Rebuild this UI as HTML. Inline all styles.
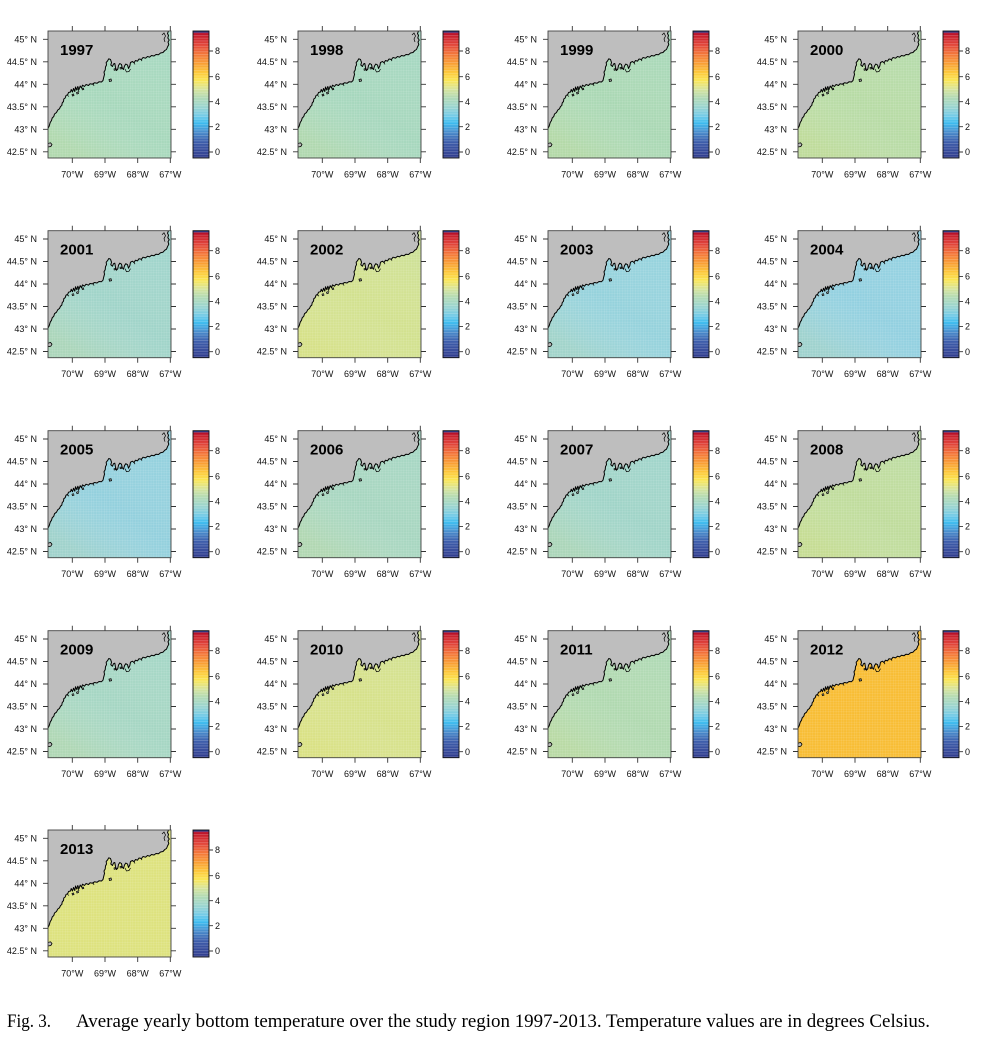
<!DOCTYPE html>
<html><head><meta charset="utf-8">
<style>
html,body{margin:0;padding:0;background:#fff;}
svg{display:block;}
.yl,.xl,.cl{font-family:"Liberation Sans",sans-serif;font-size:9px;fill:#111;}
.yl{text-anchor:end;}
.xl{text-anchor:middle;}
.yr{font-family:"Liberation Sans",sans-serif;font-size:15px;font-weight:bold;fill:#000;}
.cap{font-family:"Liberation Serif",serif;font-size:19px;fill:#000;}
</style></head>
<body>
<svg width="990" height="1063" viewBox="0 0 990 1063" xmlns="http://www.w3.org/2000/svg" xmlns:xlink="http://www.w3.org/1999/xlink">
<defs>
<linearGradient id="cb" x1="0" y1="31" x2="0" y2="158" gradientUnits="userSpaceOnUse">
<stop offset="0" stop-color="#a50026"/>
<stop offset="0.04" stop-color="#c8202d"/>
<stop offset="0.109" stop-color="#e2463a"/>
<stop offset="0.179" stop-color="#f3753a"/>
<stop offset="0.258" stop-color="#f9a035"/>
<stop offset="0.327" stop-color="#fdc83a"/>
<stop offset="0.387" stop-color="#fbe553"/>
<stop offset="0.456" stop-color="#d8e49b"/>
<stop offset="0.526" stop-color="#b1dab5"/>
<stop offset="0.595" stop-color="#9cd5cf"/>
<stop offset="0.665" stop-color="#76cbe6"/>
<stop offset="0.724" stop-color="#3dbcef"/>
<stop offset="0.794" stop-color="#4a8fce"/>
<stop offset="0.873" stop-color="#3e5eab"/>
<stop offset="1" stop-color="#303a8c"/>
</linearGradient>
<pattern id="stripes" x="0" y="0" width="20" height="2.7" patternUnits="userSpaceOnUse">
<rect x="0" y="0" width="20" height="0.8" fill="#fff" fill-opacity="0.22"/>
</pattern>
<pattern id="grid" x="0" y="0" width="2.6" height="2.6" patternUnits="userSpaceOnUse">
<rect x="0" y="0" width="2.6" height="0.5" fill="#fff" fill-opacity="0.16"/>
<rect x="0" y="0" width="0.5" height="2.6" fill="#fff" fill-opacity="0.16"/>
</pattern>
<linearGradient id="shade" x1="1" y1="0" x2="0.3" y2="1">
<stop offset="0" stop-color="#7fcfe0" stop-opacity="0.12"/>
<stop offset="0.6" stop-color="#ffffff" stop-opacity="0"/>
<stop offset="1" stop-color="#f0e060" stop-opacity="0.14"/>
</linearGradient>

<g id="land" transform="translate(48,31)">
<path fill="#bebebe" stroke="none" d="M0,0 L0,97.5 L1.2,95 L2.2,91.5 L3.5,89.5 L4.2,87 L5.8,85.5 L6.5,83 L8.5,81.5 L9.8,79 L11.5,77.8 L12.5,75.5 L13.8,74.5 L14.2,72 L15.5,70.5 L15.8,68 L17.2,67 L18,64.5 L19.8,63.5 L20.5,61.5 L22.5,61 L23.2,58.5 L24.5,61 L25.5,57.5 L26.8,60.5 L27.5,56 L28.8,59 L29.8,55.5 L31,58.5 L32.2,55 L33.5,57 L34.5,54.2 L36.5,55.5 L38,53.5 L40.5,54.5 L42,52.8 L44.5,53.2 L46.5,51.8 L49,52.3 L51,50.8 L53.5,51 L55,49.5 L55.8,46 L56.5,43.5 L56,41 L57.2,39 L57.5,36 L58.5,34 L58.2,31.5 L59.5,30 L60.8,27.8 L62.5,28.5 L63.5,31.5 L62.8,34 L64.5,35.5 L65.5,33 L66.8,32.5 L67.5,36.5 L68.5,39.5 L69.8,38 L70.5,34.5 L71.8,32.5 L73.5,33.5 L74.2,37 L75.5,38.5 L76.5,35 L77.8,33 L79.5,34 L80.5,37.5 L81.8,35 L82.5,31.5 L84.5,30.5 L86,31.8 L87.5,29.5 L89.5,30.2 L91,28 L93.5,28.5 L95,26.5 L97.5,27.2 L99.5,25.5 L101.5,26.2 L103.5,24.5 L106,25 L108,23.5 L110.5,23.8 L112.5,22 L115,21.5 L116.8,19.5 L118.5,18.5 L119.5,16 L120.8,13.5 L120,11 L121.2,9 L119.8,7 L120.5,4.5 L119.5,2.5 L120.5,0 Z"/>
<path fill="none" stroke="#000" stroke-width="1" stroke-linejoin="round" d="M0,97.5 L1.2,95 L2.2,91.5 L3.5,89.5 L4.2,87 L5.8,85.5 L6.5,83 L8.5,81.5 L9.8,79 L11.5,77.8 L12.5,75.5 L13.8,74.5 L14.2,72 L15.5,70.5 L15.8,68 L17.2,67 L18,64.5 L19.8,63.5 L20.5,61.5 L22.5,61 L23.2,58.5 L24.5,61 L25.5,57.5 L26.8,60.5 L27.5,56 L28.8,59 L29.8,55.5 L31,58.5 L32.2,55 L33.5,57 L34.5,54.2 L36.5,55.5 L38,53.5 L40.5,54.5 L42,52.8 L44.5,53.2 L46.5,51.8 L49,52.3 L51,50.8 L53.5,51 L55,49.5 L55.8,46 L56.5,43.5 L56,41 L57.2,39 L57.5,36 L58.5,34 L58.2,31.5 L59.5,30 L60.8,27.8 L62.5,28.5 L63.5,31.5 L62.8,34 L64.5,35.5 L65.5,33 L66.8,32.5 L67.5,36.5 L68.5,39.5 L69.8,38 L70.5,34.5 L71.8,32.5 L73.5,33.5 L74.2,37 L75.5,38.5 L76.5,35 L77.8,33 L79.5,34 L80.5,37.5 L81.8,35 L82.5,31.5 L84.5,30.5 L86,31.8 L87.5,29.5 L89.5,30.2 L91,28 L93.5,28.5 L95,26.5 L97.5,27.2 L99.5,25.5 L101.5,26.2 L103.5,24.5 L106,25 L108,23.5 L110.5,23.8 L112.5,22 L115,21.5 L116.8,19.5 L118.5,18.5 L119.5,16 L120.8,13.5 L120,11 L121.2,9 L119.8,7 L120.5,4.5 L119.5,2.5 L120.5,0"/>
<path fill="#bebebe" stroke="#000" stroke-width="0.8" d="M0,112.5 L2.5,111.8 L4,113.5 L2.8,115.5 L0,116"/>
<path fill="#bebebe" stroke="#000" stroke-width="0.8" d="M61,48.5 L63,48 L63.5,50 L61.5,50.5 Z"/>
<path fill="#bebebe" stroke="#000" stroke-width="0.7" d="M24,63.5 L25.5,63 L26,64.5 L24.5,65 Z"/>
<path fill="#bebebe" stroke="#000" stroke-width="0.7" d="M28.5,61.5 L30,61 L30.5,62.5 L29,63 Z"/>
<path fill="#bebebe" stroke="#000" stroke-width="0.7" d="M34,57.5 L35.5,57.2 L35.8,58.6 L34.3,58.8 Z"/>
<path fill="#bebebe" stroke="#000" stroke-width="0.7" d="M66,38 L67.3,37.6 L67.6,39 L66.2,39.3 Z"/>
<path fill="#bebebe" stroke="#000" stroke-width="0.7" d="M72,36.5 L73.4,36.3 L73.6,37.8 L72.2,38 Z"/>
<path fill="none" stroke="#000" stroke-width="0.7" d="M77,38 L78.5,41 L81,40.5 L82.5,38 M114,4 L116,2 L117.5,5 L116,8 L117,11 M45,52 L46,55 M30,58 L31,61 M19,64 L21,65.5 M86,31.5 L87,33.5 M93,28.5 L94,30"/>
</g>

<g id="axes" stroke="#333" stroke-width="0.9">
<rect x="48" y="31" width="123" height="127" fill="none" stroke="#444"/>
<path d="M43,39.3H48M43,61.8H48M43,84.3H48M43,106.8H48M43,129.3H48M43,151.8H48
M171,39.3H176M171,61.8H176M171,84.3H176M171,106.8H176M171,129.3H176M171,151.8H176
M72.3,26V31M105,26V31M137.7,26V31M170.3,26V31
M72.3,158V163M105,158V163M137.7,158V163M170.3,158V163" fill="none"/>
</g>

<g id="cbar">
<rect x="193" y="31" width="16" height="127" fill="url(#cb)"/>
<rect x="193" y="31" width="16" height="127" fill="url(#stripes)"/>
<rect x="193" y="31" width="16" height="1.6" fill="#2c3a8c"/>
<rect x="193" y="31" width="16" height="127" fill="none" stroke="#111" stroke-width="0.9"/>
<path d="M209,51H213M209,76.7H213M209,101.7H213M209,126.7H213M209,152H213" stroke="#333" stroke-width="0.9"/>
</g>
</defs>

<rect x="0" y="0" width="990" height="1063" fill="#fff"/>

<!-- Row 1 -->
<g transform="translate(0,0)">
<rect x="48" y="31" width="123" height="127" fill="#a7d8bc"/>
<rect x="48" y="31" width="123" height="127" fill="url(#shade)"/>
<rect x="48" y="31" width="123" height="127" fill="url(#grid)"/>
<use xlink:href="#land" href="#land"/><use xlink:href="#axes" href="#axes"/><use xlink:href="#cbar" href="#cbar"/>
<text class="yr" x="60" y="55">1997</text>
<text class="yl"><tspan x="37" y="42.5">45° N</tspan><tspan x="37" y="65">44.5° N</tspan><tspan x="37" y="87.5">44° N</tspan><tspan x="37" y="110">43.5° N</tspan><tspan x="37" y="132.5">43° N</tspan><tspan x="37" y="155">42.5° N</tspan></text>
<text class="xl"><tspan x="72.3" y="177.5">70°W</tspan><tspan x="105" y="177.5">69°W</tspan><tspan x="137.7" y="177.5">68°W</tspan><tspan x="170.3" y="177.5">67°W</tspan></text>
<text class="cl"><tspan x="215" y="54.2">8</tspan><tspan x="215" y="79.9">6</tspan><tspan x="215" y="104.9">4</tspan><tspan x="215" y="129.9">2</tspan><tspan x="215" y="155.2">0</tspan></text>
</g>
<g transform="translate(250,0)">
<rect x="48" y="31" width="123" height="127" fill="#a6d7bd"/>
<rect x="48" y="31" width="123" height="127" fill="url(#shade)"/>
<rect x="48" y="31" width="123" height="127" fill="url(#grid)"/>
<use xlink:href="#land" href="#land"/><use xlink:href="#axes" href="#axes"/><use xlink:href="#cbar" href="#cbar"/>
<text class="yr" x="60" y="55">1998</text>
<text class="yl"><tspan x="37" y="42.5">45° N</tspan><tspan x="37" y="65">44.5° N</tspan><tspan x="37" y="87.5">44° N</tspan><tspan x="37" y="110">43.5° N</tspan><tspan x="37" y="132.5">43° N</tspan><tspan x="37" y="155">42.5° N</tspan></text>
<text class="xl"><tspan x="72.3" y="177.5">70°W</tspan><tspan x="105" y="177.5">69°W</tspan><tspan x="137.7" y="177.5">68°W</tspan><tspan x="170.3" y="177.5">67°W</tspan></text>
<text class="cl"><tspan x="215" y="54.2">8</tspan><tspan x="215" y="79.9">6</tspan><tspan x="215" y="104.9">4</tspan><tspan x="215" y="129.9">2</tspan><tspan x="215" y="155.2">0</tspan></text>
</g>
<g transform="translate(500,0)">
<rect x="48" y="31" width="123" height="127" fill="#aad8b4"/>
<rect x="48" y="31" width="123" height="127" fill="url(#shade)"/>
<rect x="48" y="31" width="123" height="127" fill="url(#grid)"/>
<use xlink:href="#land" href="#land"/><use xlink:href="#axes" href="#axes"/><use xlink:href="#cbar" href="#cbar"/>
<text class="yr" x="60" y="55">1999</text>
<text class="yl"><tspan x="37" y="42.5">45° N</tspan><tspan x="37" y="65">44.5° N</tspan><tspan x="37" y="87.5">44° N</tspan><tspan x="37" y="110">43.5° N</tspan><tspan x="37" y="132.5">43° N</tspan><tspan x="37" y="155">42.5° N</tspan></text>
<text class="xl"><tspan x="72.3" y="177.5">70°W</tspan><tspan x="105" y="177.5">69°W</tspan><tspan x="137.7" y="177.5">68°W</tspan><tspan x="170.3" y="177.5">67°W</tspan></text>
<text class="cl"><tspan x="215" y="54.2">8</tspan><tspan x="215" y="79.9">6</tspan><tspan x="215" y="104.9">4</tspan><tspan x="215" y="129.9">2</tspan><tspan x="215" y="155.2">0</tspan></text>
</g>
<g transform="translate(750,0)">
<rect x="48" y="31" width="123" height="127" fill="#b7dba5"/>
<rect x="48" y="31" width="123" height="127" fill="url(#shade)"/>
<rect x="48" y="31" width="123" height="127" fill="url(#grid)"/>
<use xlink:href="#land" href="#land"/><use xlink:href="#axes" href="#axes"/><use xlink:href="#cbar" href="#cbar"/>
<text class="yr" x="60" y="55">2000</text>
<text class="yl"><tspan x="37" y="42.5">45° N</tspan><tspan x="37" y="65">44.5° N</tspan><tspan x="37" y="87.5">44° N</tspan><tspan x="37" y="110">43.5° N</tspan><tspan x="37" y="132.5">43° N</tspan><tspan x="37" y="155">42.5° N</tspan></text>
<text class="xl"><tspan x="72.3" y="177.5">70°W</tspan><tspan x="105" y="177.5">69°W</tspan><tspan x="137.7" y="177.5">68°W</tspan><tspan x="170.3" y="177.5">67°W</tspan></text>
<text class="cl"><tspan x="215" y="54.2">8</tspan><tspan x="215" y="79.9">6</tspan><tspan x="215" y="104.9">4</tspan><tspan x="215" y="129.9">2</tspan><tspan x="215" y="155.2">0</tspan></text>
</g>

<!-- Row 2 -->
<g transform="translate(0,199.7)">
<rect x="48" y="31" width="123" height="127" fill="#a0d4c9"/>
<rect x="48" y="31" width="123" height="127" fill="url(#shade)"/>
<rect x="48" y="31" width="123" height="127" fill="url(#grid)"/>
<use xlink:href="#land" href="#land"/><use xlink:href="#axes" href="#axes"/><use xlink:href="#cbar" href="#cbar"/>
<text class="yr" x="60" y="55">2001</text>
<text class="yl"><tspan x="37" y="42.5">45° N</tspan><tspan x="37" y="65">44.5° N</tspan><tspan x="37" y="87.5">44° N</tspan><tspan x="37" y="110">43.5° N</tspan><tspan x="37" y="132.5">43° N</tspan><tspan x="37" y="155">42.5° N</tspan></text>
<text class="xl"><tspan x="72.3" y="177.5">70°W</tspan><tspan x="105" y="177.5">69°W</tspan><tspan x="137.7" y="177.5">68°W</tspan><tspan x="170.3" y="177.5">67°W</tspan></text>
<text class="cl"><tspan x="215" y="54.2">8</tspan><tspan x="215" y="79.9">6</tspan><tspan x="215" y="104.9">4</tspan><tspan x="215" y="129.9">2</tspan><tspan x="215" y="155.2">0</tspan></text>
</g>
<g transform="translate(250,199.7)">
<rect x="48" y="31" width="123" height="127" fill="#d2e18f"/>
<rect x="48" y="31" width="123" height="127" fill="url(#shade)"/>
<rect x="48" y="31" width="123" height="127" fill="url(#grid)"/>
<use xlink:href="#land" href="#land"/><use xlink:href="#axes" href="#axes"/><use xlink:href="#cbar" href="#cbar"/>
<text class="yr" x="60" y="55">2002</text>
<text class="yl"><tspan x="37" y="42.5">45° N</tspan><tspan x="37" y="65">44.5° N</tspan><tspan x="37" y="87.5">44° N</tspan><tspan x="37" y="110">43.5° N</tspan><tspan x="37" y="132.5">43° N</tspan><tspan x="37" y="155">42.5° N</tspan></text>
<text class="xl"><tspan x="72.3" y="177.5">70°W</tspan><tspan x="105" y="177.5">69°W</tspan><tspan x="137.7" y="177.5">68°W</tspan><tspan x="170.3" y="177.5">67°W</tspan></text>
<text class="cl"><tspan x="215" y="54.2">8</tspan><tspan x="215" y="79.9">6</tspan><tspan x="215" y="104.9">4</tspan><tspan x="215" y="129.9">2</tspan><tspan x="215" y="155.2">0</tspan></text>
</g>
<g transform="translate(500,199.7)">
<rect x="48" y="31" width="123" height="127" fill="#95d2dc"/>
<rect x="48" y="31" width="123" height="127" fill="url(#shade)"/>
<rect x="48" y="31" width="123" height="127" fill="url(#grid)"/>
<use xlink:href="#land" href="#land"/><use xlink:href="#axes" href="#axes"/><use xlink:href="#cbar" href="#cbar"/>
<text class="yr" x="60" y="55">2003</text>
<text class="yl"><tspan x="37" y="42.5">45° N</tspan><tspan x="37" y="65">44.5° N</tspan><tspan x="37" y="87.5">44° N</tspan><tspan x="37" y="110">43.5° N</tspan><tspan x="37" y="132.5">43° N</tspan><tspan x="37" y="155">42.5° N</tspan></text>
<text class="xl"><tspan x="72.3" y="177.5">70°W</tspan><tspan x="105" y="177.5">69°W</tspan><tspan x="137.7" y="177.5">68°W</tspan><tspan x="170.3" y="177.5">67°W</tspan></text>
<text class="cl"><tspan x="215" y="54.2">8</tspan><tspan x="215" y="79.9">6</tspan><tspan x="215" y="104.9">4</tspan><tspan x="215" y="129.9">2</tspan><tspan x="215" y="155.2">0</tspan></text>
</g>
<g transform="translate(750,199.7)">
<rect x="48" y="31" width="123" height="127" fill="#92d0e0"/>
<rect x="48" y="31" width="123" height="127" fill="url(#shade)"/>
<rect x="48" y="31" width="123" height="127" fill="url(#grid)"/>
<use xlink:href="#land" href="#land"/><use xlink:href="#axes" href="#axes"/><use xlink:href="#cbar" href="#cbar"/>
<text class="yr" x="60" y="55">2004</text>
<text class="yl"><tspan x="37" y="42.5">45° N</tspan><tspan x="37" y="65">44.5° N</tspan><tspan x="37" y="87.5">44° N</tspan><tspan x="37" y="110">43.5° N</tspan><tspan x="37" y="132.5">43° N</tspan><tspan x="37" y="155">42.5° N</tspan></text>
<text class="xl"><tspan x="72.3" y="177.5">70°W</tspan><tspan x="105" y="177.5">69°W</tspan><tspan x="137.7" y="177.5">68°W</tspan><tspan x="170.3" y="177.5">67°W</tspan></text>
<text class="cl"><tspan x="215" y="54.2">8</tspan><tspan x="215" y="79.9">6</tspan><tspan x="215" y="104.9">4</tspan><tspan x="215" y="129.9">2</tspan><tspan x="215" y="155.2">0</tspan></text>
</g>

<!-- Row 3 -->
<g transform="translate(0,399.7)">
<rect x="48" y="31" width="123" height="127" fill="#93d0dd"/>
<rect x="48" y="31" width="123" height="127" fill="url(#shade)"/>
<rect x="48" y="31" width="123" height="127" fill="url(#grid)"/>
<use xlink:href="#land" href="#land"/><use xlink:href="#axes" href="#axes"/><use xlink:href="#cbar" href="#cbar"/>
<text class="yr" x="60" y="55">2005</text>
<text class="yl"><tspan x="37" y="42.5">45° N</tspan><tspan x="37" y="65">44.5° N</tspan><tspan x="37" y="87.5">44° N</tspan><tspan x="37" y="110">43.5° N</tspan><tspan x="37" y="132.5">43° N</tspan><tspan x="37" y="155">42.5° N</tspan></text>
<text class="xl"><tspan x="72.3" y="177.5">70°W</tspan><tspan x="105" y="177.5">69°W</tspan><tspan x="137.7" y="177.5">68°W</tspan><tspan x="170.3" y="177.5">67°W</tspan></text>
<text class="cl"><tspan x="215" y="54.2">8</tspan><tspan x="215" y="79.9">6</tspan><tspan x="215" y="104.9">4</tspan><tspan x="215" y="129.9">2</tspan><tspan x="215" y="155.2">0</tspan></text>
</g>
<g transform="translate(250,399.7)">
<rect x="48" y="31" width="123" height="127" fill="#a7d6c0"/>
<rect x="48" y="31" width="123" height="127" fill="url(#shade)"/>
<rect x="48" y="31" width="123" height="127" fill="url(#grid)"/>
<use xlink:href="#land" href="#land"/><use xlink:href="#axes" href="#axes"/><use xlink:href="#cbar" href="#cbar"/>
<text class="yr" x="60" y="55">2006</text>
<text class="yl"><tspan x="37" y="42.5">45° N</tspan><tspan x="37" y="65">44.5° N</tspan><tspan x="37" y="87.5">44° N</tspan><tspan x="37" y="110">43.5° N</tspan><tspan x="37" y="132.5">43° N</tspan><tspan x="37" y="155">42.5° N</tspan></text>
<text class="xl"><tspan x="72.3" y="177.5">70°W</tspan><tspan x="105" y="177.5">69°W</tspan><tspan x="137.7" y="177.5">68°W</tspan><tspan x="170.3" y="177.5">67°W</tspan></text>
<text class="cl"><tspan x="215" y="54.2">8</tspan><tspan x="215" y="79.9">6</tspan><tspan x="215" y="104.9">4</tspan><tspan x="215" y="129.9">2</tspan><tspan x="215" y="155.2">0</tspan></text>
</g>
<g transform="translate(500,399.7)">
<rect x="48" y="31" width="123" height="127" fill="#a0d4c8"/>
<rect x="48" y="31" width="123" height="127" fill="url(#shade)"/>
<rect x="48" y="31" width="123" height="127" fill="url(#grid)"/>
<use xlink:href="#land" href="#land"/><use xlink:href="#axes" href="#axes"/><use xlink:href="#cbar" href="#cbar"/>
<text class="yr" x="60" y="55">2007</text>
<text class="yl"><tspan x="37" y="42.5">45° N</tspan><tspan x="37" y="65">44.5° N</tspan><tspan x="37" y="87.5">44° N</tspan><tspan x="37" y="110">43.5° N</tspan><tspan x="37" y="132.5">43° N</tspan><tspan x="37" y="155">42.5° N</tspan></text>
<text class="xl"><tspan x="72.3" y="177.5">70°W</tspan><tspan x="105" y="177.5">69°W</tspan><tspan x="137.7" y="177.5">68°W</tspan><tspan x="170.3" y="177.5">67°W</tspan></text>
<text class="cl"><tspan x="215" y="54.2">8</tspan><tspan x="215" y="79.9">6</tspan><tspan x="215" y="104.9">4</tspan><tspan x="215" y="129.9">2</tspan><tspan x="215" y="155.2">0</tspan></text>
</g>
<g transform="translate(750,399.7)">
<rect x="48" y="31" width="123" height="127" fill="#bfdc9c"/>
<rect x="48" y="31" width="123" height="127" fill="url(#shade)"/>
<rect x="48" y="31" width="123" height="127" fill="url(#grid)"/>
<use xlink:href="#land" href="#land"/><use xlink:href="#axes" href="#axes"/><use xlink:href="#cbar" href="#cbar"/>
<text class="yr" x="60" y="55">2008</text>
<text class="yl"><tspan x="37" y="42.5">45° N</tspan><tspan x="37" y="65">44.5° N</tspan><tspan x="37" y="87.5">44° N</tspan><tspan x="37" y="110">43.5° N</tspan><tspan x="37" y="132.5">43° N</tspan><tspan x="37" y="155">42.5° N</tspan></text>
<text class="xl"><tspan x="72.3" y="177.5">70°W</tspan><tspan x="105" y="177.5">69°W</tspan><tspan x="137.7" y="177.5">68°W</tspan><tspan x="170.3" y="177.5">67°W</tspan></text>
<text class="cl"><tspan x="215" y="54.2">8</tspan><tspan x="215" y="79.9">6</tspan><tspan x="215" y="104.9">4</tspan><tspan x="215" y="129.9">2</tspan><tspan x="215" y="155.2">0</tspan></text>
</g>

<!-- Row 4 -->
<g transform="translate(0,599.7)">
<rect x="48" y="31" width="123" height="127" fill="#a5d6c3"/>
<rect x="48" y="31" width="123" height="127" fill="url(#shade)"/>
<rect x="48" y="31" width="123" height="127" fill="url(#grid)"/>
<use xlink:href="#land" href="#land"/><use xlink:href="#axes" href="#axes"/><use xlink:href="#cbar" href="#cbar"/>
<text class="yr" x="60" y="55">2009</text>
<text class="yl"><tspan x="37" y="42.5">45° N</tspan><tspan x="37" y="65">44.5° N</tspan><tspan x="37" y="87.5">44° N</tspan><tspan x="37" y="110">43.5° N</tspan><tspan x="37" y="132.5">43° N</tspan><tspan x="37" y="155">42.5° N</tspan></text>
<text class="xl"><tspan x="72.3" y="177.5">70°W</tspan><tspan x="105" y="177.5">69°W</tspan><tspan x="137.7" y="177.5">68°W</tspan><tspan x="170.3" y="177.5">67°W</tspan></text>
<text class="cl"><tspan x="215" y="54.2">8</tspan><tspan x="215" y="79.9">6</tspan><tspan x="215" y="104.9">4</tspan><tspan x="215" y="129.9">2</tspan><tspan x="215" y="155.2">0</tspan></text>
</g>
<g transform="translate(250,599.7)">
<rect x="48" y="31" width="123" height="127" fill="#d6e18a"/>
<rect x="48" y="31" width="123" height="127" fill="url(#shade)"/>
<rect x="48" y="31" width="123" height="127" fill="url(#grid)"/>
<use xlink:href="#land" href="#land"/><use xlink:href="#axes" href="#axes"/><use xlink:href="#cbar" href="#cbar"/>
<text class="yr" x="60" y="55">2010</text>
<text class="yl"><tspan x="37" y="42.5">45° N</tspan><tspan x="37" y="65">44.5° N</tspan><tspan x="37" y="87.5">44° N</tspan><tspan x="37" y="110">43.5° N</tspan><tspan x="37" y="132.5">43° N</tspan><tspan x="37" y="155">42.5° N</tspan></text>
<text class="xl"><tspan x="72.3" y="177.5">70°W</tspan><tspan x="105" y="177.5">69°W</tspan><tspan x="137.7" y="177.5">68°W</tspan><tspan x="170.3" y="177.5">67°W</tspan></text>
<text class="cl"><tspan x="215" y="54.2">8</tspan><tspan x="215" y="79.9">6</tspan><tspan x="215" y="104.9">4</tspan><tspan x="215" y="129.9">2</tspan><tspan x="215" y="155.2">0</tspan></text>
</g>
<g transform="translate(500,599.7)">
<rect x="48" y="31" width="123" height="127" fill="#b0d9b0"/>
<rect x="48" y="31" width="123" height="127" fill="url(#shade)"/>
<rect x="48" y="31" width="123" height="127" fill="url(#grid)"/>
<use xlink:href="#land" href="#land"/><use xlink:href="#axes" href="#axes"/><use xlink:href="#cbar" href="#cbar"/>
<text class="yr" x="60" y="55">2011</text>
<text class="yl"><tspan x="37" y="42.5">45° N</tspan><tspan x="37" y="65">44.5° N</tspan><tspan x="37" y="87.5">44° N</tspan><tspan x="37" y="110">43.5° N</tspan><tspan x="37" y="132.5">43° N</tspan><tspan x="37" y="155">42.5° N</tspan></text>
<text class="xl"><tspan x="72.3" y="177.5">70°W</tspan><tspan x="105" y="177.5">69°W</tspan><tspan x="137.7" y="177.5">68°W</tspan><tspan x="170.3" y="177.5">67°W</tspan></text>
<text class="cl"><tspan x="215" y="54.2">8</tspan><tspan x="215" y="79.9">6</tspan><tspan x="215" y="104.9">4</tspan><tspan x="215" y="129.9">2</tspan><tspan x="215" y="155.2">0</tspan></text>
</g>
<g transform="translate(750,599.7)">
<rect x="48" y="31" width="123" height="127" fill="#f8bd34"/>
<rect x="48" y="31" width="123" height="127" fill="url(#grid)"/>
<use xlink:href="#land" href="#land"/><use xlink:href="#axes" href="#axes"/><use xlink:href="#cbar" href="#cbar"/>
<text class="yr" x="60" y="55">2012</text>
<text class="yl"><tspan x="37" y="42.5">45° N</tspan><tspan x="37" y="65">44.5° N</tspan><tspan x="37" y="87.5">44° N</tspan><tspan x="37" y="110">43.5° N</tspan><tspan x="37" y="132.5">43° N</tspan><tspan x="37" y="155">42.5° N</tspan></text>
<text class="xl"><tspan x="72.3" y="177.5">70°W</tspan><tspan x="105" y="177.5">69°W</tspan><tspan x="137.7" y="177.5">68°W</tspan><tspan x="170.3" y="177.5">67°W</tspan></text>
<text class="cl"><tspan x="215" y="54.2">8</tspan><tspan x="215" y="79.9">6</tspan><tspan x="215" y="104.9">4</tspan><tspan x="215" y="129.9">2</tspan><tspan x="215" y="155.2">0</tspan></text>
</g>

<!-- Row 5 -->
<g transform="translate(0,799)">
<rect x="48" y="31" width="123" height="127" fill="#dde27e"/>
<rect x="48" y="31" width="123" height="127" fill="url(#grid)"/>
<use xlink:href="#land" href="#land"/><use xlink:href="#axes" href="#axes"/><use xlink:href="#cbar" href="#cbar"/>
<text class="yr" x="60" y="55">2013</text>
<text class="yl"><tspan x="37" y="42.5">45° N</tspan><tspan x="37" y="65">44.5° N</tspan><tspan x="37" y="87.5">44° N</tspan><tspan x="37" y="110">43.5° N</tspan><tspan x="37" y="132.5">43° N</tspan><tspan x="37" y="155">42.5° N</tspan></text>
<text class="xl"><tspan x="72.3" y="177.5">70°W</tspan><tspan x="105" y="177.5">69°W</tspan><tspan x="137.7" y="177.5">68°W</tspan><tspan x="170.3" y="177.5">67°W</tspan></text>
<text class="cl"><tspan x="215" y="54.2">8</tspan><tspan x="215" y="79.9">6</tspan><tspan x="215" y="104.9">4</tspan><tspan x="215" y="129.9">2</tspan><tspan x="215" y="155.2">0</tspan></text>
</g>

<!-- Caption -->
<text class="cap" x="7" y="1027" textLength="44" lengthAdjust="spacingAndGlyphs">Fig. 3.</text>
<text class="cap" x="76" y="1027" textLength="854" lengthAdjust="spacingAndGlyphs">Average yearly bottom temperature over the study region 1997-2013. Temperature values are in degrees Celsius.</text>
</svg>
</body></html>
